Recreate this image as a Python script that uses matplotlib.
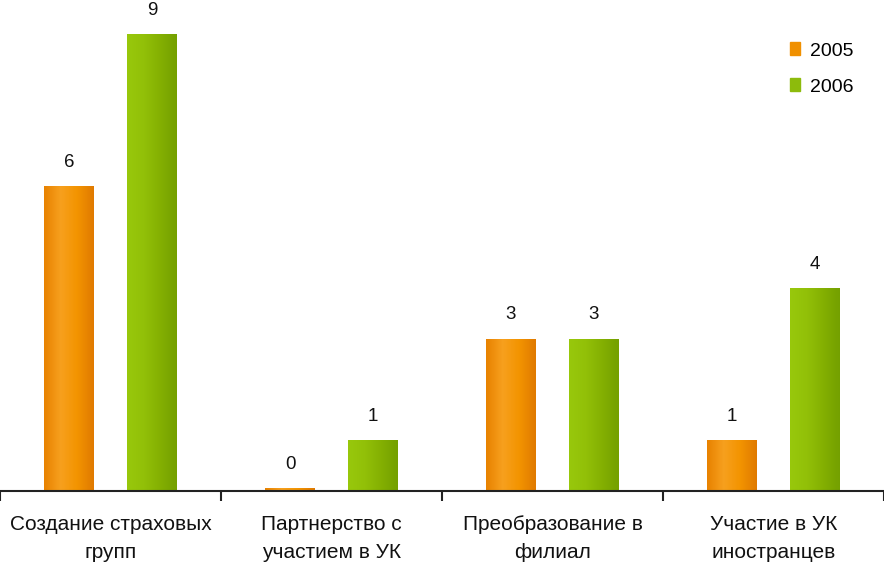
import numpy as np
import matplotlib
matplotlib.use("Agg")
import matplotlib.pyplot as plt
from matplotlib.patches import Rectangle
from matplotlib.colors import LinearSegmentedColormap

categories = ["Создание страховых\nгрупп", "Партнерство с\nучастием в УК",
              "Преобразование в\nфилиал", "Участие в УК\nиностранцев"]
years = ["2005", "2006"]
values_2005 = [6, 0, 3, 1]
values_2006 = [9, 1, 3, 4]

plt.rcParams['font.family'] = ['Liberation Sans', 'DejaVu Sans']

fig = plt.figure(figsize=(8.84, 5.64), dpi=100)
ax = fig.add_axes([0.0, 1 - 491 / 564, 1.0, 491 / 564])

n = len(categories)
x = np.arange(n)
width = 50 / 221
offset = 41.5 / 221

orange_cmap = LinearSegmentedColormap.from_list("o", ["#E88200", "#F7A01E", "#F39400", "#E07A00"])
green_cmap = LinearSegmentedColormap.from_list("g", ["#98C80C", "#92C008", "#84B002", "#74A000"])

series = [(values_2005, -offset, "#F09000", orange_cmap),
          (values_2006, offset, "#8DBB0C", green_cmap)]

grad = np.linspace(0, 1, 64).reshape(1, -1)
for vals, off, col, cmap in series:
    shown = np.maximum(np.array(vals, dtype=float), 0.06)
    bars = ax.bar(x + off, shown, width=width, color=col, edgecolor='none', zorder=2)
    for b, v in zip(bars, vals):
        x0, y0 = b.get_x(), b.get_y()
        w, h = b.get_width(), b.get_height()
        im = ax.imshow(grad, cmap=cmap, aspect='auto', extent=(x0, x0 + w, y0, y0 + h),
                       zorder=2.5, interpolation='bicubic')
        im.set_clip_path(b)
        ax.annotate(str(v), (x0 + w / 2, y0 + h), xytext=(0, 11), textcoords='offset points',
                    ha='center', va='bottom', fontsize=13.5, color='#111111')

ax.set_xlim(-0.5, n - 0.5)
ax.set_ylim(0, 9.67)

for s in ['top', 'right', 'left']:
    ax.spines[s].set_visible(False)
ax.spines['bottom'].set_linewidth(1.5)
ax.spines['bottom'].set_color('#222222')
ax.set_yticks([])
ax.set_xticks(np.arange(n + 1) - 0.5)
ax.set_xticklabels([])
ax.tick_params(axis='x', length=7, width=1.5, color='#222222')
for i, c in enumerate(categories):
    ax.text(i, -0.48, c, ha='center', va='top', fontsize=15, color='#111111',
            linespacing=1.6, transform=ax.transData, clip_on=False)

handles = [Rectangle((0, 0), 1, 1, color="#F09000"), Rectangle((0, 0), 1, 1, color="#8DBB0C")]
fig.legend(handles, years, loc='upper left', bbox_to_anchor=(772 / 884, 1 - 25 / 564),
           frameon=False, fontsize=14, handlelength=0.55, handleheight=0.65,
           handletextpad=0.5, labelspacing=0.95)

fig.savefig("out.png", dpi=100, facecolor='white')
